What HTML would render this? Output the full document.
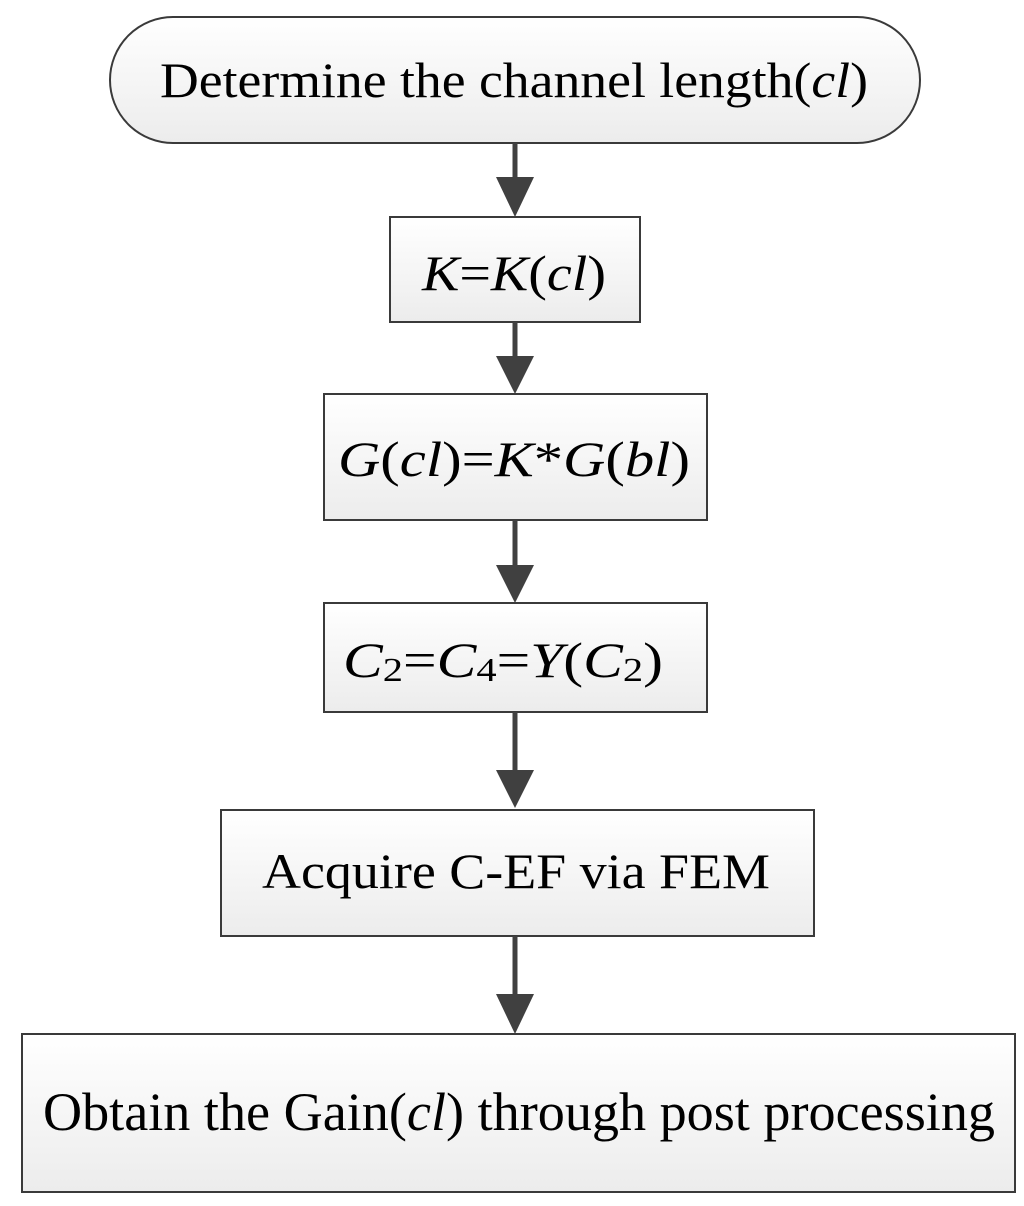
<!DOCTYPE html>
<html><head><meta charset="utf-8"><style>html,body{margin:0;padding:0;background:#fff}</style></head>
<body>
<svg width="1024" height="1201" viewBox="0 0 1024 1201" xmlns="http://www.w3.org/2000/svg" font-family="Liberation Serif, serif" fill="#000">
<defs>
<linearGradient id="g" x1="0" y1="0" x2="0" y2="1"><stop offset="0" stop-color="#ffffff"/><stop offset="1" stop-color="#ececec"/></linearGradient>
</defs>
<g stroke="#3a3a3a" stroke-width="2" fill="url(#g)">
<rect x="110" y="17" width="810" height="126" rx="63" ry="63"/>
<rect x="390" y="217" width="250" height="105"/>
<rect x="324" y="394" width="383" height="126"/>
<rect x="324" y="603" width="383" height="109"/>
<rect x="221" y="810" width="593" height="126"/>
<rect x="22" y="1034" width="993" height="158"/>
</g>
<g stroke="#404040" stroke-width="5">
<line x1="515" y1="143" x2="515" y2="185"/>
<line x1="515" y1="322" x2="515" y2="364"/>
<line x1="515" y1="520" x2="515" y2="573"/>
<line x1="515" y1="712" x2="515" y2="775"/>
<line x1="515" y1="936" x2="515" y2="1000"/>
</g>
<g fill="#404040">
<polygon points="496,177 534,177 515,217"/>
<polygon points="496,356 534,356 515,394"/>
<polygon points="496,565 534,565 515,603"/>
<polygon points="496,770 534,770 515,808"/>
<polygon points="496,994 534,994 515,1034"/>
</g>
<g font-size="50">
<text x="160" y="97" textLength="708" lengthAdjust="spacingAndGlyphs">Determine the channel length(<tspan font-style="italic">cl</tspan>)</text>
<text x="422" y="290" textLength="184" lengthAdjust="spacingAndGlyphs"><tspan font-style="italic">K</tspan>=<tspan font-style="italic">K</tspan>(<tspan font-style="italic">cl</tspan>)</text>
<text x="338" y="476" textLength="352" lengthAdjust="spacingAndGlyphs"><tspan font-style="italic">G</tspan>(<tspan font-style="italic">cl</tspan>)=<tspan font-style="italic">K</tspan>*<tspan font-style="italic">G</tspan>(<tspan font-style="italic">bl</tspan>)</text>
<text x="343" y="677" textLength="320" lengthAdjust="spacingAndGlyphs"><tspan font-style="italic">C</tspan><tspan font-size="34" dy="4">2</tspan><tspan dy="-4">=</tspan><tspan font-style="italic">C</tspan><tspan font-size="34" dy="4">4</tspan><tspan dy="-4">=</tspan><tspan font-style="italic">Y</tspan>(<tspan font-style="italic">C</tspan><tspan font-size="34" dy="4">2</tspan><tspan dy="-4">)</tspan></text>
<text x="262" y="888" textLength="508" lengthAdjust="spacingAndGlyphs">Acquire C-EF via FEM</text>
<text x="43" y="1130" font-size="54" textLength="952" lengthAdjust="spacingAndGlyphs">Obtain the Gain(<tspan font-style="italic">cl</tspan>) through post processing</text>
</g>
</svg>
</body></html>
